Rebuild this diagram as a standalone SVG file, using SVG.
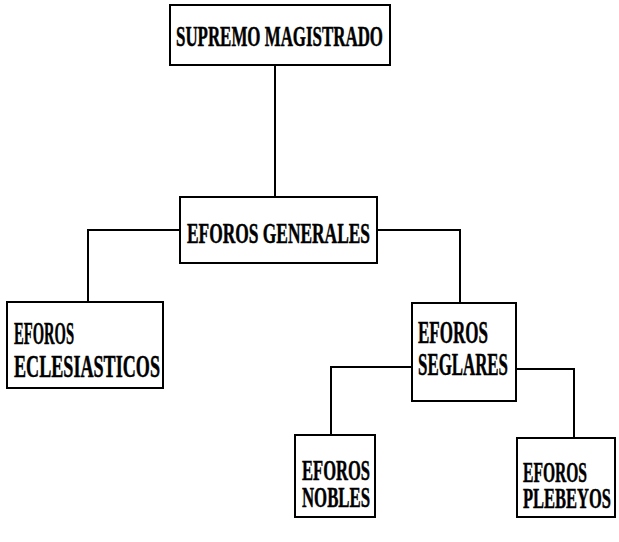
<svg xmlns="http://www.w3.org/2000/svg" width="619" height="542" viewBox="0 0 619 542">
<style>
.box{fill:#fff;stroke:#000;stroke-width:2}
.ln{fill:none;stroke:#000;stroke-width:2}
text{font-family:"Liberation Serif","Times New Roman",serif;font-weight:bold;fill:#000;stroke:#000;stroke-width:0.5}
.a{font-size:29px}
.b{font-size:31px}
.c{font-size:29px}
</style>
<rect width="619" height="542" fill="#fff"/>
<g id="connectors">
<path class="ln" d="M275 65 V197"/>
<path class="ln" d="M180 230 H88 V302"/>
<path class="ln" d="M377 230 H460 V303"/>
<path class="ln" d="M412 367 H331 V436"/>
<path class="ln" d="M516 369 H574 V439"/>
</g>
<g id="supremo">
<rect class="box" x="170" y="5" width="220" height="60"/>
<text class="a" x="176" y="46" textLength="207" lengthAdjust="spacingAndGlyphs">SUPREMO MAGISTRADO</text>
</g>
<g id="generales">
<rect class="box" x="180" y="197" width="197" height="66"/>
<text class="a" x="187" y="243" textLength="183" lengthAdjust="spacingAndGlyphs">EFOROS GENERALES</text>
</g>
<g id="eclesiasticos">
<rect class="box" x="7" y="302" width="156" height="86"/>
<text class="b" x="14" y="344" textLength="60" lengthAdjust="spacingAndGlyphs">EFOROS</text>
<text class="b" x="14" y="377" textLength="146" lengthAdjust="spacingAndGlyphs">ECLESIASTICOS</text>
</g>
<g id="seglares">
<rect class="box" x="412" y="303" width="104" height="98"/>
<text class="b" x="418" y="343" textLength="70" lengthAdjust="spacingAndGlyphs">EFOROS</text>
<text class="b" x="418" y="375" textLength="90" lengthAdjust="spacingAndGlyphs">SEGLARES</text>
</g>
<g id="nobles">
<rect class="box" x="295" y="435" width="80" height="82"/>
<text class="c" x="302" y="480" textLength="68" lengthAdjust="spacingAndGlyphs">EFOROS</text>
<text class="c" x="302" y="507" textLength="68" lengthAdjust="spacingAndGlyphs">NOBLES</text>
</g>
<g id="plebeyos">
<rect class="box" x="517" y="438" width="98" height="79"/>
<text class="c" x="523" y="482" textLength="64" lengthAdjust="spacingAndGlyphs">EFOROS</text>
<text class="c" x="523" y="508" textLength="88" lengthAdjust="spacingAndGlyphs">PLEBEYOS</text>
</g>
</svg>
